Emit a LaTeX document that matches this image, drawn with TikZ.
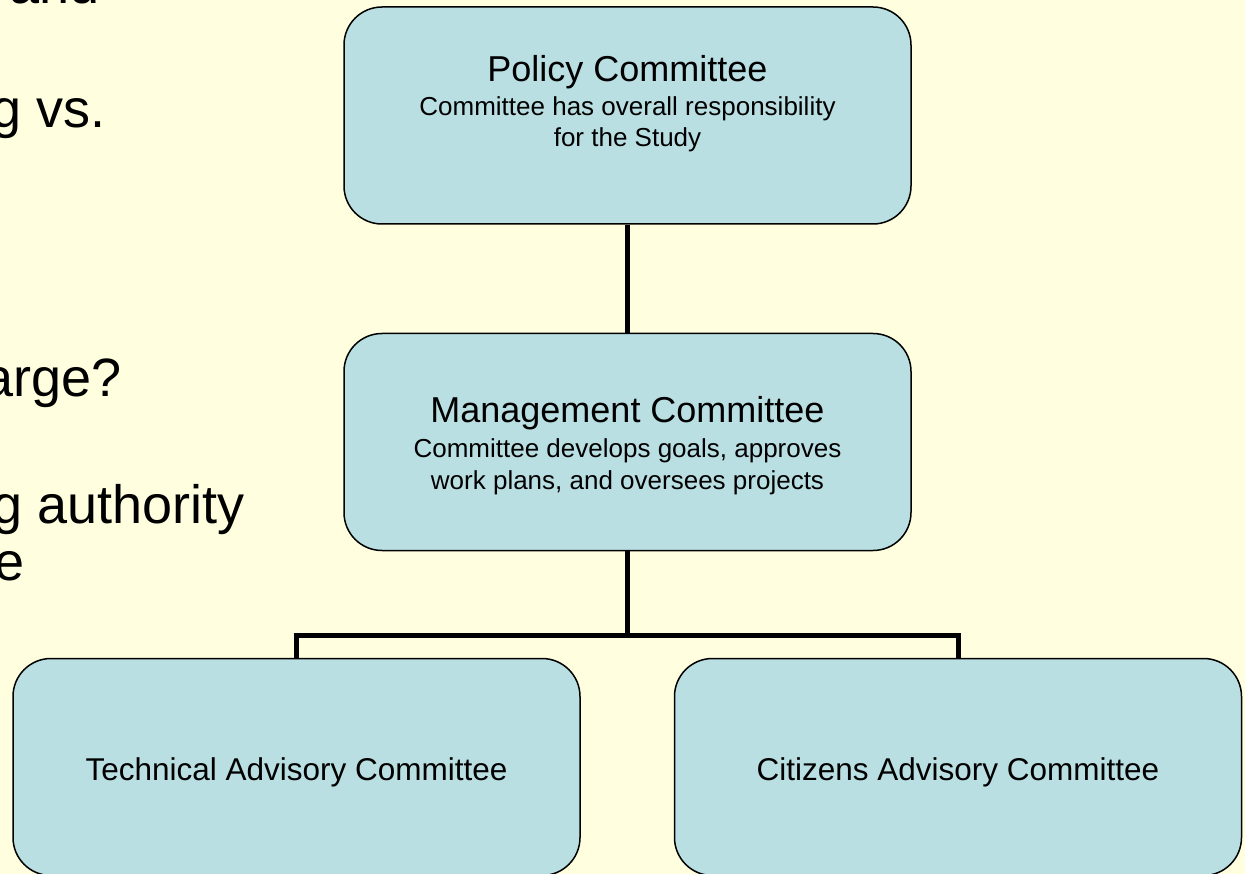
\documentclass[tikz,border=0pt]{standalone}
\usepackage{fontspec}
\setmainfont{Liberation Sans}
\definecolor{bg}{RGB}{255,255,224}
\definecolor{boxfill}{RGB}{185,223,227}
\begin{document}
\begin{tikzpicture}[x=1pt,y=-1pt,
 box/.style={draw=black,line width=1.5pt,fill=boxfill,rounded corners=38pt,minimum width=567pt,minimum height=217pt,inner sep=0pt},
 ttl/.style={font=\fontsize{36}{40}\selectfont,anchor=base,inner sep=0pt},
 subl/.style={font=\fontsize{26}{31}\selectfont,anchor=base,inner sep=0pt},
 leaf/.style={font=\fontsize{31.5}{34}\selectfont,anchor=base,inner sep=0pt},
 side/.style={font=\fontsize{54}{57}\selectfont,anchor=base east,inner sep=0pt},
 conn/.style={line width=5pt}]
\useasboundingbox (0,0) rectangle (1245,874);
\clip (0,0) rectangle (1245,874);
\fill[bg] (0,0) rectangle (1245,874);
% left slide text (partly hidden)
\node[side] (s1) at (100,4) {and};
\node[side] (s2) at (106,128) {g vs.};
\node[side] (s3) at (122,397) {arge?};
\node[side] (s4) at (245,523) {g authority};
\node[side] (s5) at (25,580) {e};
% boxes
\node[box] (pol) at (627.5,115.5) {};
\node[box] (man) at (627.5,442) {};
\node[box] (tac) at (296.5,767) {};
\node[box] (cac) at (958,767) {};
\coordinate (bus) at (627.5,635);
% connectors
\draw[conn] (pol.south) -- (man.north);
\draw[conn] (man.south) -- (bus);
\draw[conn] (tac.north) |- (bus) -| (cac.north);
% texts
\node[ttl] (polt) at (627.5,82) {Policy Committee};
\node[subl] (pols1) at (627.5,116) {Committee has overall responsibility};
\node[subl] (pols2) at (627.5,147) {for the Study};
\node[ttl] (mant) at (627.5,423) {Management Committee};
\node[subl] (mans1) at (627.5,457) {Committee develops goals, approves};
\node[subl] (mans2) at (627.5,489) {work plans, and oversees projects};
\node[leaf] (tact) at (296.5,780) {Technical Advisory Committee};
\node[leaf] (cact) at (958,780) {Citizens Advisory Committee};
\end{tikzpicture}
\end{document}
